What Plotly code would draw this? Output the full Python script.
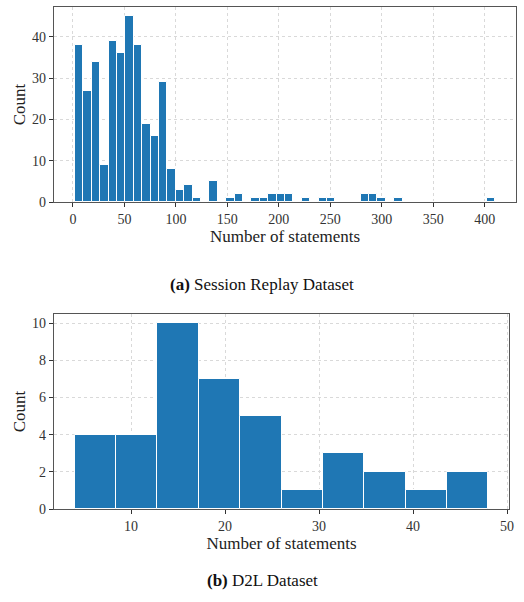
import numpy as np
import plotly.graph_objects as go

# Session Replay dataset: 50 bins from 2 to 410
sr_counts = [38, 27, 34, 9, 39, 36, 45, 38, 19, 16,
             29, 8, 3, 4, 1, 0, 5, 0, 1, 2,
             0, 1, 1, 2, 2, 2, 0, 1, 0, 1,
             1, 0, 0, 0, 2, 2, 1, 0, 1, 0,
             0, 0, 0, 0, 0, 0, 0, 0, 0, 1]
sr_min, sr_max = 2, 410
sr_ticks = [0, 50, 100, 150, 200, 250, 300, 350, 400]
sr_yticks = [0, 10, 20, 30, 40]

# D2L dataset: 10 bins from 4 to 48
d2l_counts = [4, 4, 10, 7, 5, 1, 3, 2, 1, 2]
d2l_min, d2l_max = 4, 48
d2l_ticks = [10, 20, 30, 40, 50]
d2l_yticks = [0, 2, 4, 6, 8, 10]

W, H = 524, 602
FONT = "Liberation Serif"
BLUE = "#1f77b4"

sr_edges = np.linspace(sr_min, sr_max, len(sr_counts) + 1)
d2l_edges = np.linspace(d2l_min, d2l_max, len(d2l_counts) + 1)

fig = go.Figure()
fig.add_trace(go.Bar(
    x=(sr_edges[:-1] + sr_edges[1:]) / 2, y=sr_counts,
    width=np.diff(sr_edges), marker=dict(color=BLUE, line=dict(color="white", width=1)),
    xaxis="x", yaxis="y", showlegend=False))
fig.add_trace(go.Bar(
    x=(d2l_edges[:-1] + d2l_edges[1:]) / 2, y=d2l_counts,
    width=np.diff(d2l_edges), marker=dict(color=BLUE, line=dict(color="white", width=1)),
    xaxis="x2", yaxis="y2", showlegend=False))

def px_x(a, b):
    return [a / W, b / W]

def px_y(top, bottom):
    return [1 - bottom / H, 1 - top / H]

axis_common = dict(
    showline=True, mirror=True, linecolor="#555555", linewidth=1.2,
    showgrid=True, gridcolor="#d9d9d9", griddash="dot", gridwidth=1,
    ticks="outside", ticklen=4, tickcolor="#333333",
    tickfont=dict(family=FONT, size=14, color="#333333"),
    zeroline=False, automargin=False,
)

sr_pad = 0.05 * (sr_max - sr_min)
d2l_pad = 0.05 * (d2l_max - d2l_min)
TITLE_FONT = dict(family=FONT, size=17, color="#222222")

fig.update_layout(
    width=W, height=H,
    margin=dict(l=0, r=0, t=0, b=0),
    paper_bgcolor="white", plot_bgcolor="white",
    bargap=0,
    font=dict(family=FONT, color="#222222"),
    xaxis=dict(domain=px_x(54, 516), anchor="y",
               range=[sr_min - sr_pad, sr_max + sr_pad],
               tickvals=sr_ticks,
               title=dict(text="Number of statements", font=TITLE_FONT, standoff=3),
               **axis_common),
    yaxis=dict(domain=px_y(7, 202), anchor="x",
               range=[0, max(sr_counts) * 1.05],
               tickvals=sr_yticks,
               title=dict(text="Count", font=TITLE_FONT, standoff=2),
               **axis_common),
    xaxis2=dict(domain=px_x(54, 509), anchor="y2",
                range=[d2l_min - d2l_pad, d2l_max + d2l_pad],
                tickvals=d2l_ticks,
                title=dict(text="Number of statements", font=TITLE_FONT, standoff=3),
                **axis_common),
    yaxis2=dict(domain=px_y(314, 509), anchor="x2",
                range=[0, max(d2l_counts) * 1.05],
                tickvals=d2l_yticks,
                title=dict(text="Count", font=TITLE_FONT, standoff=2),
                **axis_common),
    annotations=[
        dict(text="<b>(a)</b> Session Replay Dataset", x=262 / W, y=1 - 284 / H,
             xref="paper", yref="paper", showarrow=False,
             font=dict(family=FONT, size=17, color="#111111")),
        dict(text="<b>(b)</b> D2L Dataset", x=262 / W, y=1 - 592 / H,
             xref="paper", yref="paper", showarrow=False,
             font=dict(family=FONT, size=17, color="#111111")),
    ],
)

fig.write_html("out.html", config={"displayModeBar": False},
               post_script="document.body.style.margin='0';")
